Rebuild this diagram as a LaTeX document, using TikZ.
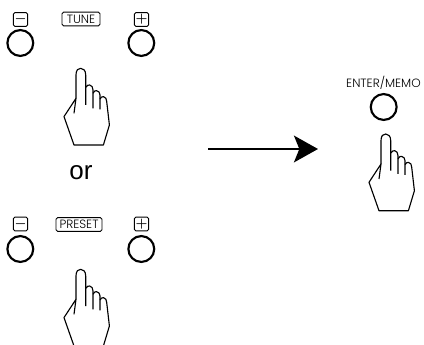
\documentclass[tikz,border=0pt]{standalone}
\usepackage{fontspec}
\setmainfont{Poppins Light}
\newfontfamily\orfont{Liberation Sans}
\usetikzlibrary{arrows.meta}
\tikzset{
    knob/.style={draw, circle, line width=1.6pt, minimum size=19.4pt, inner sep=0pt},
    keybox/.style={draw, rounded corners=1.2pt, line width=0.7pt, minimum height=10.4pt, inner sep=0pt},
    signbox/.style={keybox, minimum width=10.8pt, font=\fontsize{10}{10}\selectfont\boldmath},
    keytext/.style={font=\fontsize{9}{9}\selectfont},
    hand/.pic={
        \draw[line width=0.85pt, line join=round]
            (-4.7,30) -- (-4.7,6.7) .. controls (-4.7,1.5) and (-2.5,0) .. (0,0)
            .. controls (2.5,0) and (5,2) .. (5,6.7) -- (5,36.7);
        \draw[line width=0.85pt, line join=round]
            (5,19) .. controls (6,17) and (8,16.5) .. (9,16.7)
            .. controls (11,17) and (12.3,19) .. (12.3,21.7) -- (12.3,40);
        \draw[line width=0.85pt, line join=round]
            (12.3,25) .. controls (13,23) and (14.5,22.2) .. (15.7,22.3)
            .. controls (18,22.5) and (19.3,24.5) .. (19.3,26.7) -- (19.3,41);
        \draw[line width=0.85pt, line join=round]
            (19.3,30.7) .. controls (20,29) and (21.5,28.2) .. (22.7,28.3)
            .. controls (25,28.5) and (26,31) .. (26,33.3)
            -- (28.7,56.7) -- (22.7,76.7) -- (-6.7,76.7) -- (-16.7,48.3) -- (-4.7,30) -- (-6.7,45);
    }
}

\begin{document}
\begin{tikzpicture}[x=0.75pt, y=-0.75pt]
    \useasboundingbox (0,0) rectangle (424,345);

    % top group
    \node[signbox] (minustune) at (20.5,19.5) {$-$};
    \node[keybox, keytext, minimum width=28.5pt] (tune) at (81,19) {TUNE};
    \node[signbox] (plustune) at (141.5,19.5) {$+$};
    \node[knob] (knobtuneleft) at (20.3,43) {};
    \node[knob] (knobtuneright) at (141.3,43) {};
    \pic at (80.7,68.3) {hand};

    \node[font=\orfont\fontsize{19.5}{20}\selectfont] (or) at (81,173) {or};

    % bottom group
    \node[signbox] (minuspreset) at (20.5,224) {$-$};
    \node[keybox, keytext, minimum width=34.5pt] (preset) at (79,224.5) {PRESET};
    \node[signbox] (pluspreset) at (141.5,224) {$+$};
    \node[knob] (knobpresetleft) at (20.3,249) {};
    \node[knob] (knobpresetright) at (141.3,249) {};
    \pic at (80.7,269.3) {hand};

    % arrow to the right group
    \coordinate (arrowstart) at (208,149);
    \coordinate (arrowend) at (318,149);
    \draw[line width=1.9pt, -{Stealth[length=18pt, width=20pt, inset=4pt]}] (arrowstart) -- (arrowend);

    % right group
    \node[keytext] (enter) at (383.5,82.7) {ENTER/MEMO};
    \node[knob] (knobenter) at (383.7,107) {};
    \pic at (385.7,134) {hand};
\end{tikzpicture}
\end{document}
